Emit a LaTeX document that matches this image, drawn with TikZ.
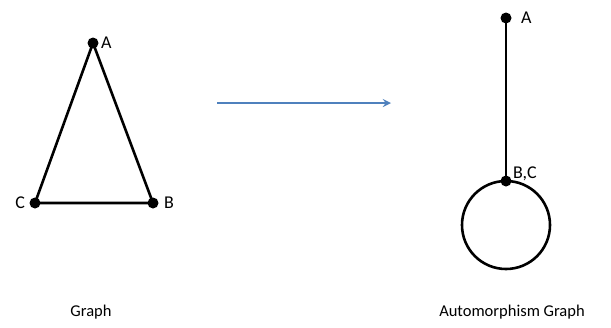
\documentclass[tikz,border=0pt]{standalone}
\usepackage{fontspec}
\setmainfont{Carlito}
\usetikzlibrary{positioning}
\definecolor{arrowblue}{RGB}{79,129,189}

\begin{document}
\begin{tikzpicture}[x=1pt,y=-1pt,line width=2.6pt,
	vertex/.style={circle,fill=black,inner sep=0pt,minimum size=11pt},
	lbl/.style={font=\fontsize{18}{18}\selectfont,inner sep=1pt},
	caption/.style={font=\fontsize{16.5}{17}\selectfont}]
	\useasboundingbox (0,0) rectangle (611,327);
	% triangle graph
		\node[vertex] (a) at (93,43) {};
		\node[vertex] (b) at (153,203) {};
		\node[vertex] (c) at (35,203) {};
		\draw (a.center) -- (b.center) -- (c.center) -- cycle;
		\node[lbl,right=-1pt of a] {A};
		\node[lbl,right=2pt of b] {B};
		\node[lbl,left=1pt of c] {C};
	% arrow between the two
		\coordinate (from) at (217,103);
		\coordinate (to) at (391,103);
		\draw[arrowblue,->,>=stealth] (from) -- (to);
	% automorphism graph
		\node[vertex] (aa) at (506,18) {};
		\node[vertex] (bc) at (506,181) {};
		\draw (aa.center) -- (bc.center);
		\draw (bc.center) arc (-90:270:44);
		\node[lbl,right=6pt of aa] {A};
		\node[lbl,above right=-7pt and 0pt of bc] {B,C};
	% captions
		\node[caption] (g) at (91,312) {Graph};
		\node[caption] (ag) at (512,312) {Automorphism Graph};
\end{tikzpicture}
\end{document}
